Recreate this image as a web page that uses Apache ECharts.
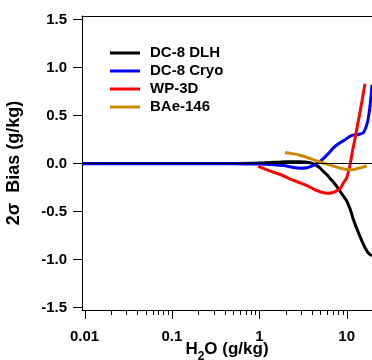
<!DOCTYPE html>
<html>
<head>
<meta charset="utf-8">
<script src="https://cdn.jsdelivr.net/npm/echarts@6/dist/echarts.min.js"></script>
<style>
  html, body { margin: 0; padding: 0; background: #fff; }
  #chart { width: 372px; height: 360px; }
</style>
</head>
<body>
<div id="chart"></div>
<script>
// axis ranges
const xMin = 0.00936;
const xMax = 19.48;
const yMin = -1.525;
const yMax = 1.535;

const yTicks = [-1.5, -1.0, -0.5, 0, 0.5, 1.0, 1.5];
const xMajorTicks = [0.01, 0.1, 1, 10];
const xMajorLabels = ["0.01", "0.1", "1", "10"];
const xMinorTicks = [
  0.02, 0.03, 0.04, 0.05, 0.06, 0.07, 0.08, 0.09,
  0.2, 0.3, 0.4, 0.5, 0.6, 0.7, 0.8, 0.9,
  2, 3, 4, 5, 6, 7, 8, 9,
];

// DC-8 DLH
const dlhX = [0.0094, 0.1, 0.5, 1.0, 1.5, 2.0, 2.9, 3.8, 4.5, 5.0, 5.5, 6.0, 6.5, 7.0, 8.0, 9.0, 10, 11, 12, 13.5, 15, 16.5, 18, 19.5];
const dlhY = [0, 0, 0, 0.005, 0.012, 0.017, 0.018, 0.008, -0.02, -0.05, -0.09, -0.12, -0.16, -0.19, -0.26, -0.33, -0.39, -0.48, -0.59, -0.71, -0.81, -0.89, -0.94, -0.96];

// DC-8 Cryo
const cryoX = [0.0094, 0.1, 0.5, 1.0, 1.5, 1.9, 2.4, 2.9, 3.5, 4.15, 4.8, 5.4, 6.2, 7.0, 8.2, 9.5, 11, 12.5, 14, 15.5, 16.5, 17.5, 18.5, 19.5];
const cryoY = [-0.004, -0.004, -0.004, -0.005, -0.012, -0.022, -0.04, -0.05, -0.045, -0.02, 0.015, 0.05, 0.105, 0.16, 0.21, 0.245, 0.285, 0.3, 0.305, 0.32, 0.37, 0.45, 0.6, 0.82];

// WP-3D
const wpX = [0.97, 1.35, 1.8, 2.24, 3.0, 3.8, 4.5, 5.2, 6.0, 6.8, 7.7, 8.5, 9.2, 10, 10.5, 11, 11.6, 12.4, 13.3, 14.3, 15.3, 16.2];
const wpY = [-0.03, -0.08, -0.12, -0.16, -0.205, -0.245, -0.28, -0.3, -0.31, -0.305, -0.285, -0.255, -0.2, -0.15, -0.08, 0.0, 0.12, 0.25, 0.4, 0.55, 0.7, 0.83];

// BAe-146
const baeX = [1.97, 2.5, 2.92, 3.6, 4.54, 5.6, 7.0, 8.5, 10, 11.5, 13, 15, 17];
const baeY = [0.115, 0.1, 0.086, 0.06, 0.027, 0.0, -0.028, -0.05, -0.063, -0.066, -0.055, -0.04, -0.025];

const zip = (xs, ys) => xs.map((x, i) => [x, ys[i]]);

const font = "'Liberation Sans', Arial, Helvetica, sans-serif";

const lineSeries = (name, xs, ys, color, extra) => ({
  name,
  type: "line",
  data: zip(xs, ys),
  showSymbol: false,
  smooth: 0.3,
  color,
  lineStyle: { color, width: 3 },
  ...extra,
});

// log minor ticks are drawn through the x scale, since the log axis only ticks decades
const tickSeries = (values, len) => ({
  type: "custom",
  xAxisIndex: 0,
  yAxisIndex: 0,
  clip: false,
  silent: true,
  data: values.map((v) => [v, 0]),
  encode: { x: 0, y: 1 },
  renderItem: (params, api) => {
    const p = api.coord([api.value(0), yMin]);
    return {
      type: "line",
      shape: { x1: Math.round(p[0]) + 0.5, y1: p[1], x2: Math.round(p[0]) + 0.5, y2: p[1] + len },
      style: { stroke: "#000", lineWidth: 1 },
    };
  },
});

const chart = echarts.init(document.getElementById("chart"));
chart.setOption({
  animation: false,
  backgroundColor: "#fff",
  textStyle: { fontFamily: font },
  grid: { left: 82, right: 0, top: 16, bottom: 50, containLabel: false, outerBoundsMode: "none" },
  legend: {
    orient: "vertical",
    left: 105,
    top: 39,
    icon: "rect",
    itemWidth: 30,
    itemHeight: 3,
    itemGap: 0,
    data: ["DC-8 DLH", "DC-8 Cryo", "WP-3D", "BAe-146"],
    textStyle: {
      fontFamily: font,
      fontSize: 15,
      fontWeight: "bold",
      color: "#000",
      lineHeight: 18,
      padding: [0, 0, 0, 5],
    },
  },
  xAxis: [
    {
      type: "log",
      logBase: 10,
      min: xMin,
      max: xMax,
      position: "bottom",
      axisLine: { show: true, onZero: false, lineStyle: { color: "#000", width: 1 } },
      axisTick: { show: false },
      splitLine: { show: false },
      axisLabel: {
        margin: 19,
        fontFamily: font,
        fontSize: 15,
        fontWeight: "bold",
        color: "#000",
        formatter: (v) => {
          const e = Math.log10(v);
          if (Math.abs(e - Math.round(e)) > 1e-6) return "";
          const i = xMajorTicks.findIndex((t) => Math.abs(Math.log10(t) - e) < 1e-6);
          return i >= 0 ? xMajorLabels[i] : "";
        },
      },
      name: "{a|H}{s|2}{a|O (g/kg)}",
      nameLocation: "middle",
      nameGap: 31,
      nameMoveOverlap: false,
      nameTextStyle: {
        rich: {
          a: { fontFamily: font, fontSize: 17, fontWeight: "bold", color: "#000", verticalAlign: "top", lineHeight: 20 },
          s: { fontFamily: font, fontSize: 12, fontWeight: "bold", color: "#000", verticalAlign: "bottom", padding: [10, 0, 0, 0] },
        },
      },
    },
    {
      type: "log",
      logBase: 10,
      min: xMin,
      max: xMax,
      position: "top",
      axisLine: { show: true, onZero: false, lineStyle: { color: "#000", width: 1 } },
      axisTick: { show: false },
      axisLabel: { show: false },
      splitLine: { show: false },
    },
  ],
  yAxis: {
    type: "value",
    min: yMin,
    max: yMax,
    axisLine: { show: true, onZero: false, lineStyle: { color: "#000", width: 1 } },
    axisTick: { show: true, length: 9, customValues: yTicks, lineStyle: { color: "#000", width: 1 } },
    splitLine: { show: false },
    axisLabel: {
      customValues: yTicks,
      margin: 15,
      fontFamily: font,
      fontSize: 15,
      fontWeight: "bold",
      color: "#000",
      formatter: (v) => v.toFixed(1),
    },
    name: "2σ  Bias (g/kg)",
    nameLocation: "middle",
    nameGap: 59,
    nameMoveOverlap: false,
    nameTextStyle: { fontFamily: font, fontSize: 18, fontWeight: "bold", color: "#000" },
  },
  series: [
    lineSeries("DC-8 DLH", dlhX, dlhY, "#000000", {
      markLine: {
        silent: true,
        symbol: "none",
        label: { show: false },
        lineStyle: { color: "#000", width: 1, type: "solid" },
        data: [{ yAxis: 0 }],
      },
    }),
    lineSeries("DC-8 Cryo", cryoX, cryoY, "#0000ff"),
    lineSeries("WP-3D", wpX, wpY, "#ff0000"),
    lineSeries("BAe-146", baeX, baeY, "#cc8800"),
    tickSeries(xMajorTicks, 9),
    tickSeries(xMinorTicks, 5),
  ],
});
</script>
</body>
</html>
